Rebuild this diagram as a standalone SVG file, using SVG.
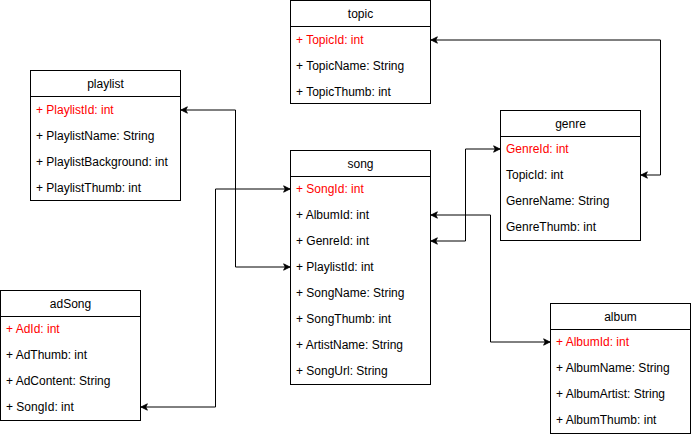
<svg xmlns="http://www.w3.org/2000/svg" width="691" height="437" viewBox="0 0 691 437">
<style>
.box{fill:#fff;stroke:#000;stroke-width:1}
.sep{stroke:#000;stroke-width:1}
text{font-family:"Liberation Sans",Arial,Helvetica,sans-serif;font-size:12px;fill:#000}
.hd{text-anchor:middle}
.pk{fill:#ff0000}
.conn{fill:none;stroke:#000;stroke-width:1}
</style>
<defs>
<marker id="arr" viewBox="0 0 10 10" refX="9" refY="5" markerWidth="8" markerHeight="8" markerUnits="userSpaceOnUse" orient="auto-start-reverse">
<path d="M1,1 L9,5 L1,9 L3,5 Z" fill="#000" stroke="#000" stroke-width="1"/>
</marker>
</defs>
<rect width="691" height="437" fill="#fff"/>
<g id="connectors">
<path class="conn" d="M431,40 H660.5 V175 H641" marker-start="url(#arr)" marker-end="url(#arr)"/>
<path class="conn" d="M181,110 H235.5 V267 H290" marker-start="url(#arr)" marker-end="url(#arr)"/>
<path class="conn" d="M141,407 H215.5 V189 H290" marker-start="url(#arr)" marker-end="url(#arr)"/>
<path class="conn" d="M431,241 H465.5 V149 H500" marker-start="url(#arr)" marker-end="url(#arr)"/>
<path class="conn" d="M431,215 H490.5 V342 H550" marker-start="url(#arr)" marker-end="url(#arr)"/>
</g>
<g id="topic">
<rect class="box" x="290.5" y="0.5" width="140" height="103"/>
<line class="sep" x1="290.5" y1="26.5" x2="430.5" y2="26.5"/>
<text class="hd" x="360.5" y="18">topic</text>
<text class="pk" x="296" y="44">+ TopicId: int</text>
<text x="296" y="70">+ TopicName: String</text>
<text x="296" y="96">+ TopicThumb: int</text>
</g>
<g id="playlist">
<rect class="box" x="30.5" y="70.5" width="150" height="130"/>
<line class="sep" x1="30.5" y1="96.5" x2="180.5" y2="96.5"/>
<text class="hd" x="105.5" y="88">playlist</text>
<text class="pk" x="36" y="114">+ PlaylistId: int</text>
<text x="36" y="140">+ PlaylistName: String</text>
<text x="36" y="166">+ PlaylistBackground: int</text>
<text x="36" y="192">+ PlaylistThumb: int</text>
</g>
<g id="song">
<rect class="box" x="290.5" y="150.5" width="140" height="234"/>
<line class="sep" x1="290.5" y1="176.5" x2="430.5" y2="176.5"/>
<text class="hd" x="360.5" y="168">song</text>
<text class="pk" x="296" y="193">+ SongId: int</text>
<text x="296" y="219">+ AlbumId: int</text>
<text x="296" y="245">+ GenreId: int</text>
<text x="296" y="271">+ PlaylistId: int</text>
<text x="296" y="297">+ SongName: String</text>
<text x="296" y="323">+ SongThumb: int</text>
<text x="296" y="349">+ ArtistName: String</text>
<text x="296" y="375">+ SongUrl: String</text>
</g>
<g id="genre">
<rect class="box" x="500.5" y="110.5" width="140" height="130"/>
<line class="sep" x1="500.5" y1="136.5" x2="640.5" y2="136.5"/>
<text class="hd" x="570.5" y="128">genre</text>
<text class="pk" x="506" y="153">GenreId: int</text>
<text x="506" y="179">TopicId: int</text>
<text x="506" y="205">GenreName: String</text>
<text x="506" y="231">GenreThumb: int</text>
</g>
<g id="adSong">
<rect class="box" x="0.5" y="290.5" width="140" height="130"/>
<line class="sep" x1="0.5" y1="316.5" x2="140.5" y2="316.5"/>
<text class="hd" x="70.5" y="308">adSong</text>
<text class="pk" x="6" y="333">+ AdId: int</text>
<text x="6" y="359">+ AdThumb: int</text>
<text x="6" y="385">+ AdContent: String</text>
<text x="6" y="411">+ SongId: int</text>
</g>
<g id="album">
<rect class="box" x="550.5" y="303.5" width="140" height="130"/>
<line class="sep" x1="550.5" y1="329.5" x2="690.5" y2="329.5"/>
<text class="hd" x="620.5" y="321">album</text>
<text class="pk" x="556" y="346">+ AlbumId: int</text>
<text x="556" y="372">+ AlbumName: String</text>
<text x="556" y="398">+ AlbumArtist: String</text>
<text x="556" y="424">+ AlbumThumb: int</text>
</g>
</svg>
